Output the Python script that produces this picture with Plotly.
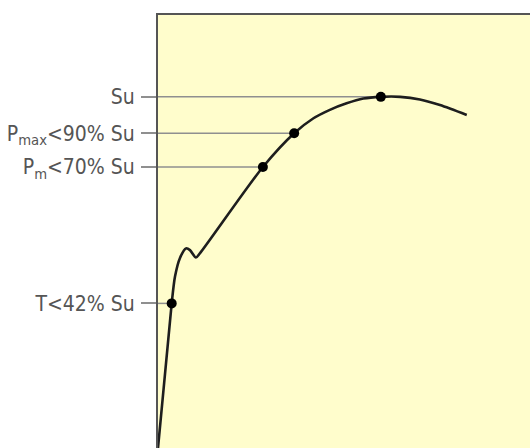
import plotly.graph_objects as go

# stress-strain curve (normalised units)
strain = [0.0, 3.68, 4.57, 5.91, 7.53, 8.60, 10.2, 11.3, 28.2, 36.6, 41.7, 46.2, 50.7,
          55.2, 59.9, 65.1, 70.4, 75.8, 83.0]
stress = [0.0, 33.4, 39.6, 43.9, 46.1, 45.7, 44.0, 45.0, 64.9, 72.7, 76.1, 78.1, 79.6,
          80.7, 81.1, 81.1, 80.5, 79.2, 76.9]

# key points
key_strain = [3.68, 28.2, 36.6, 59.9]
key_stress = [33.4, 64.9, 72.7, 81.1]
key_labels = ["T&lt;42% Su", "P<sub>m</sub>&lt;70% Su", "P<sub>max</sub>&lt;90% Su", "Su"]

FONT = "DejaVu Sans Condensed, Liberation Sans Narrow, sans-serif"

fig = go.Figure()

# guide lines from the axis to each key point
gx, gy = [], []
for xs, ys in zip(key_strain, key_stress):
    gx += [0, xs, None]
    gy += [ys, ys, None]
fig.add_trace(go.Scatter(x=gx, y=gy, mode="lines",
                         line=dict(color="#8f8f8f", width=1.5),
                         hoverinfo="skip", showlegend=False))

fig.add_trace(go.Scatter(x=strain, y=stress, mode="lines",
                         line=dict(color="#1e1e1e", width=2.6, shape="spline", smoothing=0.75),
                         showlegend=False))

fig.add_trace(go.Scatter(x=key_strain, y=key_stress, mode="markers",
                         marker=dict(color="#000000", size=10),
                         showlegend=False))

fig.update_layout(
    width=530, height=448,
    margin=dict(l=158, r=0, t=15, b=0),
    paper_bgcolor="white",
    plot_bgcolor="#FFFDCC",
    font=dict(family=FONT, color="#555555", size=21),
    xaxis=dict(range=[0, 100], side="top", showline=True, linecolor="#555555",
               linewidth=2, showgrid=False, zeroline=False, showticklabels=False,
               ticks="", automargin=False),
    yaxis=dict(range=[0, 100], showline=True, linecolor="#555555", linewidth=2,
               showgrid=False, zeroline=False, automargin=False,
               tickmode="array", tickvals=key_stress, ticktext=key_labels,
               ticks="outside", ticklen=15, tickwidth=1.5, tickcolor="#8f8f8f",
               ticklabelstandoff=2,
               tickfont=dict(family=FONT, color="#555555", size=21)),
)

fig.write_html("out.html",
               config={"displayModeBar": False},
               post_script="document.body.style.margin='0px';document.body.style.overflow='hidden';")
